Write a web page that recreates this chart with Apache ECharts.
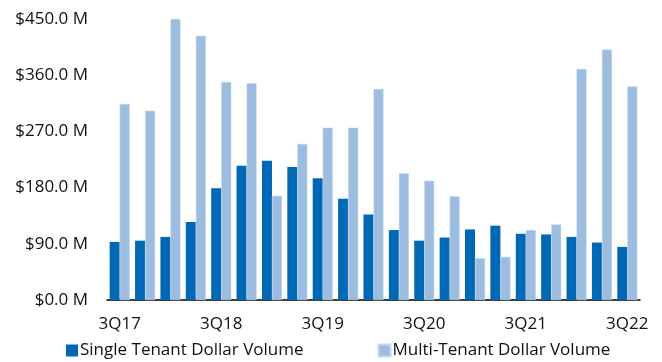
<!DOCTYPE html>
<html>
<head>
<meta charset="utf-8">
<script src="https://cdn.jsdelivr.net/npm/echarts@6/dist/echarts.min.js"></script>
<style>
  html, body { margin: 0; padding: 0; background: #fff; }
  #chart { width: 662px; height: 362px; }
</style>
</head>
<body>
<div id="chart"></div>
<script>
// quarters 3Q17 .. 3Q22
const quarters = [
  "3Q17", "4Q17", "1Q18", "2Q18", "3Q18", "4Q18", "1Q19", "2Q19", "3Q19", "4Q19",
  "1Q20", "2Q20", "3Q20", "4Q20", "1Q21", "2Q21", "3Q21", "4Q21", "1Q22", "2Q22", "3Q22"
];
// $ millions
const singleTenant = [93, 95, 101, 125, 179, 215, 223, 213, 195, 162,
  137, 112, 95, 100, 113, 119, 106, 105, 101, 92, 85];
const multiTenant = [314, 303, 450, 423, 349, 347, 167, 250, 276, 276,
  338, 203, 191, 166, 67, 69, 112, 121, 370, 401, 342];
const yTicks = [0, 90, 180, 270, 360, 450];

const chart = echarts.init(document.getElementById("chart"));
chart.setOption({
  animation: false,
  textStyle: { fontFamily: "Open Sans" },
  grid: { left: 107, right: 22, top: 19, bottom: 62 },
  legend: {
    bottom: -2,
    left: 61,
    itemWidth: 12,
    itemHeight: 12,
    itemGap: 74,
    icon: "rect",
    textStyle: { fontSize: 17, color: "#111", padding: [0, 0, 0, -3] },
    data: ["Single Tenant Dollar Volume", "Multi-Tenant Dollar Volume"]
  },
  xAxis: {
    type: "category",
    data: quarters,
    axisLine: { lineStyle: { color: "#000", width: 1.5 } },
    axisTick: { show: false },
    axisLabel: { interval: 3, color: "#111", fontSize: 17, margin: 16 }
  },
  yAxis: {
    type: "value",
    min: yTicks[0],
    max: yTicks[yTicks.length - 1],
    interval: 90,
    splitLine: { show: false },
    axisLine: { show: false },
    axisTick: { show: false },
    axisLabel: {
      color: "#111",
      fontSize: 17,
      margin: 19,
      formatter: v => "$" + v.toFixed(1) + " M"
    }
  },
  series: [
    {
      name: "Single Tenant Dollar Volume",
      type: "bar",
      data: singleTenant,
      barGap: "0%",
      barCategoryGap: "21%",
      itemStyle: { color: "#0068b5" }
    },
    {
      name: "Multi-Tenant Dollar Volume",
      type: "bar",
      data: multiTenant,
      itemStyle: { color: "#9dbde0", borderColor: "#c4d8ee", borderWidth: 0.5 }
    }
  ]
});
</script>
</body>
</html>
